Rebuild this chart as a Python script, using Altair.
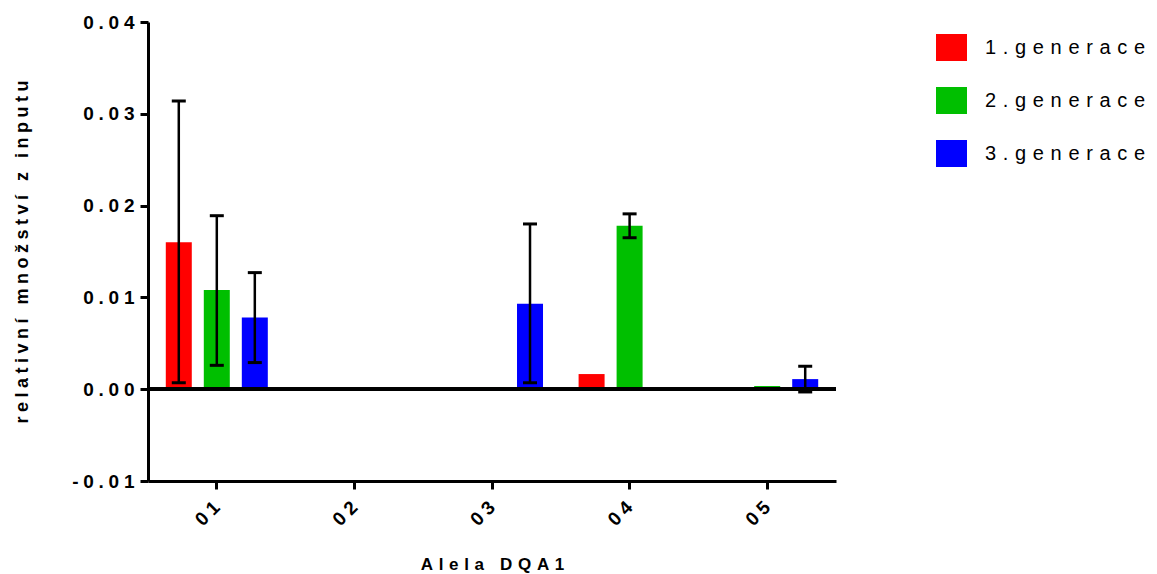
import altair as alt
import pandas as pd

alleles = ["01", "02", "03", "04", "05"]
generations = ["1.generace", "2.generace", "3.generace"]
colors = ["#ff0000", "#00bf00", "#0000ff"]

gen1_mean = [0.0160, 0.0, 0.0, 0.00165, 0.0]
gen2_mean = [0.0108, 0.0, 0.0002, 0.0178, 0.00035]
gen3_mean = [0.0078, 0.0, 0.0093, 0.0, 0.0011]

gen1_lo = [0.0007, None, None, None, None]
gen1_hi = [0.0314, None, None, None, None]
gen2_lo = [0.0026, None, None, 0.0165, None]
gen2_hi = [0.0189, None, None, 0.0191, None]
gen3_lo = [0.0029, None, 0.0007, None, -0.0003]
gen3_hi = [0.0127, None, 0.0180, None, 0.0025]

y_ticks = [-0.01, 0.0, 0.01, 0.02, 0.03, 0.04]

SP_WIDE = "\u2004"   # three-per-em space
SP_MID = "\u2005"    # four-per-em space
FONT = "Liberation Sans"


def spaced(s, sp):
    return sp.join(s)


rows = []
for g, means, los, his in zip(
    generations,
    [gen1_mean, gen2_mean, gen3_mean],
    [gen1_lo, gen2_lo, gen3_lo],
    [gen1_hi, gen2_hi, gen3_hi],
):
    for a, m, lo, hi in zip(alleles, means, los, his):
        rows.append({"allele": a, "gen": g, "value": m, "lo": lo, "hi": hi})
df = pd.DataFrame(rows)
err = df.dropna(subset=["lo", "hi"])


def spacing_expr(sp):
    return "join(split(replace(datum.label, '\u2212', '-'), ''), '" + sp + "')"


x_enc = alt.X(
    "allele:N",
    scale=alt.Scale(domain=alleles, paddingInner=0, paddingOuter=0),
    axis=alt.Axis(
        title=spaced("Alela DQA1", SP_WIDE),
        labelAngle=-45,
        labelAlign="right",
        labelBaseline="middle",
        labelPadding=15,
        labelFontSize=19,
        labelExpr=spacing_expr(SP_MID),
        titlePadding=27,
        titleFontSize=17,
    ),
)
xo_enc = alt.XOffset(
    "gen:N",
    scale=alt.Scale(domain=generations, paddingInner=0.316, paddingOuter=0.468),
)
y_scale = alt.Scale(domain=[-0.01, 0.04], nice=False, zero=False)
y_enc = alt.Y(
    "value:Q",
    scale=y_scale,
    axis=alt.Axis(
        title=spaced("relativní množství z inputu", SP_MID),
        values=y_ticks,
        format=".2f",
        labelExpr=spacing_expr(SP_MID),
        labelFontSize=19,
        labelPadding=6,
        titleFontSize=18,
        titlePadding=40,
    ),
)

bars = alt.Chart(df).mark_bar().encode(
    x=x_enc,
    xOffset=xo_enc,
    y=y_enc,
    color=alt.Color(
        "gen:N",
        scale=alt.Scale(domain=generations, range=colors),
        legend=alt.Legend(
            title=None,
            orient="none",
            legendX=788,
            legendY=10,
            symbolType="M-1,-0.87H1V0.87H-1Z",
            symbolSize=961,
            symbolStrokeWidth=0,
            symbolOpacity=1,
            labelFontSize=20,
            labelFont=FONT,
            labelFontWeight="normal",
            labelColor="black",
            labelOffset=18,
            labelLimit=400,
            labelExpr=spacing_expr(SP_WIDE),
            rowPadding=24,
        ),
    ),
)

zero = alt.Chart(df).mark_rule(color="black", strokeWidth=3).encode(y=alt.datum(0))

err_rule = alt.Chart(err).mark_rule(color="black", strokeWidth=2.5).encode(
    x=alt.X("allele:N"), xOffset=alt.XOffset("gen:N"), y=alt.Y("lo:Q"), y2="hi:Q"
)
cap_lo = alt.Chart(err).mark_tick(color="black", thickness=3, size=14, opacity=1).encode(
    x=alt.X("allele:N"), xOffset=alt.XOffset("gen:N"), y=alt.Y("lo:Q")
)
cap_hi = alt.Chart(err).mark_tick(color="black", thickness=3, size=14, opacity=1).encode(
    x=alt.X("allele:N"), xOffset=alt.XOffset("gen:N"), y=alt.Y("hi:Q")
)

chart = (
    alt.layer(bars, err_rule, cap_lo, cap_hi, zero)
    .properties(
        width=688,
        height=459,
        padding={"left": 140, "top": 14, "right": 313, "bottom": 93},
        autosize=alt.AutoSizeParams(type="none"),
        background="white",
    )
    .configure_view(stroke=None)
    .configure_axis(
        grid=False,
        domainColor="black",
        domainWidth=3,
        tickColor="black",
        tickWidth=3,
        tickSize=8,
        labelFont=FONT,
        labelFontWeight="bold",
        labelColor="black",
        titleFont=FONT,
        titleFontWeight="bold",
        titleColor="black",
    )
)

chart.save("out.html", embed_options={"renderer": "svg", "actions": False})
